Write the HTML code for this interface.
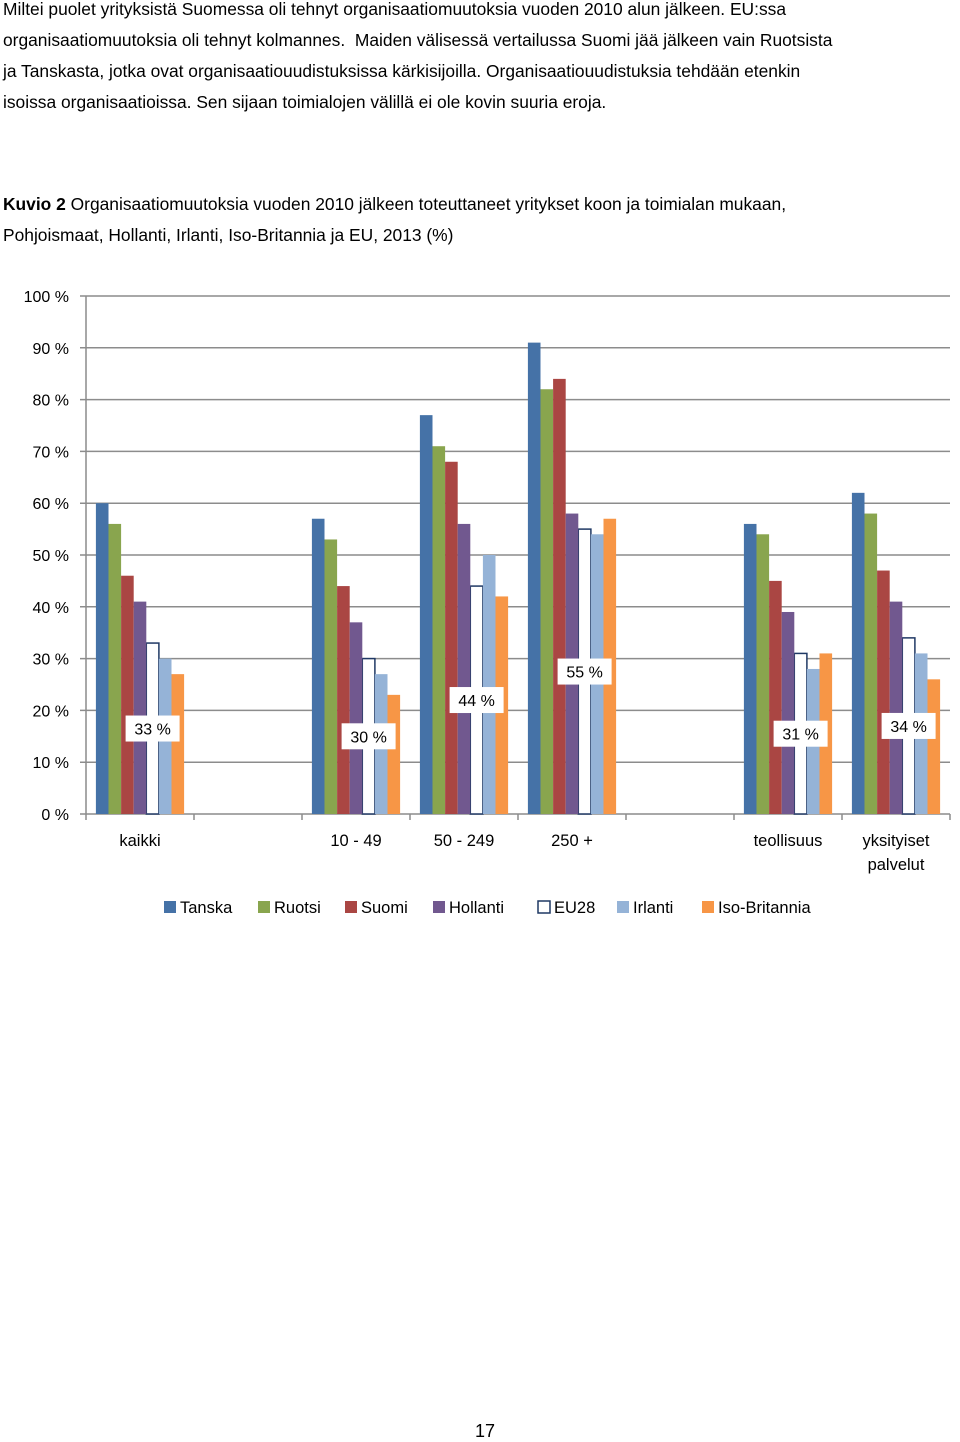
<!DOCTYPE html>
<html><head><meta charset="utf-8"><style>
body{margin:0;background:#fff;width:960px;height:1442px;overflow:hidden;font-family:"Liberation Sans",sans-serif;color:#000}
.p{position:absolute;left:3px;font-size:17.4px;white-space:nowrap;line-height:31px}
</style></head><body>
<div>
<div class="p" style="top:-6px">Miltei puolet yrityksistä Suomessa oli tehnyt organisaatiomuutoksia vuoden 2010 alun jälkeen. EU:ssa</div>
<div class="p" style="top:25px">organisaatiomuutoksia oli tehnyt kolmannes.&nbsp; Maiden välisessä vertailussa Suomi jää jälkeen vain Ruotsista</div>
<div class="p" style="top:56px">ja Tanskasta, jotka ovat organisaatiouudistuksissa kärkisijoilla. Organisaatiouudistuksia tehdään etenkin</div>
<div class="p" style="top:87px">isoissa organisaatioissa. Sen sijaan toimialojen välillä ei ole kovin suuria eroja.</div>
</div>
<div>
<div class="p" style="top:189px"><b>Kuvio 2</b> Organisaatiomuutoksia vuoden 2010 jälkeen toteuttaneet yritykset koon ja toimialan mukaan,</div>
<div class="p" style="top:220px">Pohjoismaat, Hollanti, Irlanti, Iso-Britannia ja EU, 2013 (%)</div>
</div>
<svg id="chart" width="960" height="960" style="position:absolute;left:0;top:0" font-family="Liberation Sans, sans-serif"></svg>
<div style="position:absolute;left:475px;top:1421px;font-size:18px">17</div>
<script>
const categories=["kaikki","","10 - 49","50 - 249","250 +","","teollisuus","yksityiset|palvelut"];
const seriesNames=["Tanska","Ruotsi","Suomi","Hollanti","EU28","Irlanti","Iso-Britannia"];
const tanska=[60,null,57,77,91,null,56,62];
const ruotsi=[56,null,53,71,82,null,54,58];
const suomi=[46,null,44,68,84,null,45,47];
const hollanti=[41,null,37,56,58,null,39,41];
const eu28=[33,null,30,44,55,null,31,34];
const irlanti=[30,null,27,50,54,null,28,31];
const britannia=[27,null,23,42,57,null,31,26];
const yTicks=[0,10,20,30,40,50,60,70,80,90,100];
const series=[tanska,ruotsi,suomi,hollanti,eu28,irlanti,britannia];
const colors=["#4572A7","#89A54E","#AA4643","#71588F","#fff","#95B3D7","#F79646"];
const svg=document.getElementById('chart');const NS="http://www.w3.org/2000/svg";
const X0=86,X1=950,Y0=814,Y1=296;
const slot=(X1-X0)/categories.length;
const y=v=>Y0-(Y0-Y1)*v/100;
const bw=12.6;
const bx=(c,s)=>X0+c*slot+slot/2-bw*3.5+s*bw;
function el(t,a,p){const e=document.createElementNS(NS,t);for(const k in a)e.setAttribute(k,a[k]);(p||svg).appendChild(e);return e;}
yTicks.forEach(v=>{
 const g=el('line',{x1:80,x2:X1,y1:y(v),y2:y(v),stroke:'#8c8c8c','stroke-width':1.5});
 
 
 const t=el('text',{x:69,y:y(v)+6,'text-anchor':'end','font-size':16});t.textContent=v+' %';
 
 
});
el('line',{x1:X0,x2:X0,y1:Y1,y2:Y0,stroke:'#8c8c8c','stroke-width':1.5});
for(let i=0;i<=categories.length;i++)el('line',{x1:X0+i*slot,x2:X0+i*slot,y1:Y0,y2:Y0+6,stroke:'#8c8c8c','stroke-width':1.5});
[4,0,1,2,3,5,6].forEach(s=>{
 series[s].forEach((v,c)=>{
  if(v==null)return;
  const r=el('rect',{x:bx(c,s),y:y(v),width:bw,height:Y0-y(v),fill:colors[s]});
  if(s===4){r.setAttribute('stroke','#1F3864');r.setAttribute('stroke-width',1.5);}
  
  
 });
});
eu28.forEach((v,c)=>{
 if(v==null)return;
 const cx=bx(c,4)+bw/2,cy=y(v/2);
 const bg=el('rect',{x:cx-27,y:cy-13,width:54,height:26,fill:'#fff'});
 
 
 const t=el('text',{x:cx,y:cy+6,'text-anchor':'middle','font-size':16});t.textContent=v+' %';
 
 
});
categories.forEach((c,i)=>{
 if(!c)return;
 c.split('|').forEach((ln,j)=>{
  const t=el('text',{x:X0+i*slot+slot/2,y:846+j*24,'text-anchor':'middle','font-size':16.5});t.textContent=ln;
  
  
 });
});
const lx=[164,258,345,433,538,617,702];
seriesNames.forEach((n,s)=>{
 const g=el('g',{});
 
 
 el('rect',{x:lx[s],y:901,width:12,height:12,fill:colors[s],stroke:s===4?'#1F3864':'none','stroke-width':1.5},g);
 const t=el('text',{x:lx[s]+16,y:913,'font-size':16.5},g);t.textContent=n;
});
</script>
</body></html>
